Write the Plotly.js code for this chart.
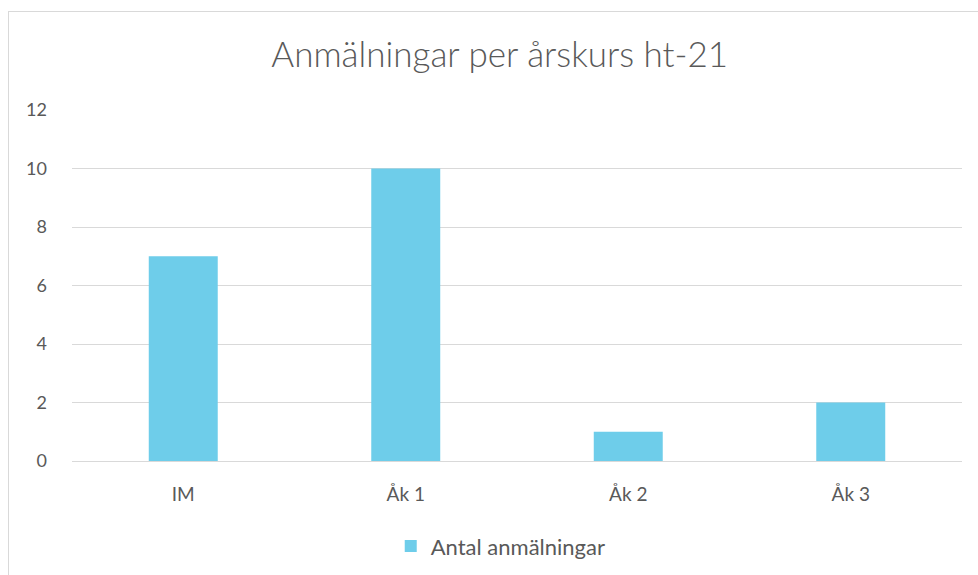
<!DOCTYPE html>
<html>
<head>
<meta charset="utf-8">
<script src="https://cdn.plot.ly/plotly-3.0.1.min.js"></script>
<style>
  body { margin: 0; background: #fff; overflow: hidden; }
  #frame { position: absolute; left: 8px; top: 11px; width: 1000px; height: 600px; border: 1px solid #d9d9d9; }
  #chart { position: absolute; left: 0; top: 0; width: 978px; height: 575px; }
</style>
</head>
<body>
<div id="frame"></div>
<div id="chart"></div>
<script>
var categories = ["IM", "Åk 1", "Åk 2", "Åk 3"];
var counts = [7, 10, 1, 2];
var seriesName = "Antal anmälningar";

var trace = {
    x: categories,
    y: counts,
    type: "bar",
    name: seriesName,
    marker: {color: "#6ecdea"},
    hoverinfo: "none"
};

var layout = {
    width: 978,
    height: 575,
    margin: {l: 72, r: 16, t: 110, b: 114},
    paper_bgcolor: "rgba(0,0,0,0)",
    plot_bgcolor: "rgba(0,0,0,0)",
    font: {family: "Lato, 'Open Sans', sans-serif", color: "#595959", size: 18},
    title: {text: "Anmälningar per årskurs ht-21", font: {size: 35, color: "#595959", weight: 300}, x: 0.511, xanchor: "center", y: 0.905, yanchor: "middle"},
    bargap: 0.69,
    showlegend: true,
    legend: {orientation: "h", x: 0.512, xanchor: "center", xref: "container", yref: "container", y: 0.05, yanchor: "middle", font: {size: 22}, itemwidth: 30},
    xaxis: {showline: false, ticks: "", tickfont: {size: 19}, ticklabelstandoff: 20},
    yaxis: {range: [0, 12], dtick: 2, gridcolor: "#d9d9d9", gridwidth: 1, zeroline: true, zerolinecolor: "#d9d9d9", ticks: "", ticklabelstandoff: 24}
};

Plotly.newPlot("chart", [trace], layout, {staticPlot: true});
</script>
</body>
</html>
